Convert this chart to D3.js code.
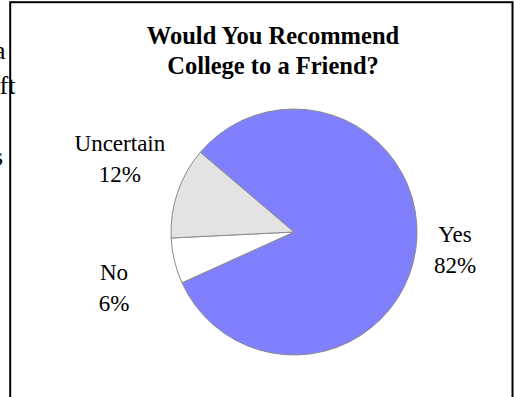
<!DOCTYPE html>
<html>
<head>
<meta charset="utf-8">
<script src="https://cdn.jsdelivr.net/npm/d3@7/dist/d3.min.js"></script>
<style>
  html, body { margin: 0; padding: 0; background: #fff; }
  svg { display: block; }
</style>
</head>
<body>
<script>
// Survey answers, in drawing order (clockwise)
const categories = ["Yes", "No", "Uncertain"];
const percents = [82, 6, 12];
const sliceColors = ["#8080FF", "#FFFFFF", "#E3E3E3"];
const titleLines = ["Would You Recommend", "College to a Friend?"];

// Label placement around the pie: angle (degrees, clockwise from 12 o'clock) and distance from centre
const labelLayout = {
  "Yes":       { angle: 99,  dist: 163 },
  "No":        { angle: 250.5, dist: 191 },
  "Uncertain": { angle: 290.6, dist: 186 }
};

const W = 514, H = 397;
const cx = 294, cy = 232, radius = 123;
const firstSliceStart = -49.6 * Math.PI / 180;

const svg = d3.select("body").append("svg")
  .attr("width", W).attr("height", H);

// Fragments of the surrounding document text peeking out at the left
const docText = svg.append("g")
  .attr("font-family", "'Liberation Serif', 'Times New Roman', serif")
  .attr("font-size", 26).attr("fill", "#000").attr("text-anchor", "end");
docText.append("text").attr("x", 5.5).attr("y", 59).text("a");
docText.append("text").attr("x", 15.5).attr("y", 94).text("ft");
docText.append("text").attr("x", 3).attr("y", 165).text("s");

// Chart frame
svg.append("rect")
  .attr("x", 10.2).attr("y", 2.2)
  .attr("width", 512.5 - 10.2).attr("height", H + 10)
  .attr("fill", "none").attr("stroke", "#000").attr("stroke-width", 2);

// Title
svg.append("g").selectAll("text")
  .data(titleLines)
  .join("text")
  .attr("x", 273)
  .attr("y", (d, i) => 44 + i * 30)
  .attr("text-anchor", "middle")
  .attr("font-family", "'Liberation Serif', 'Times New Roman', serif")
  .attr("font-weight", "bold")
  .attr("font-size", 24.5)
  .attr("fill", "#000")
  .text(d => d);

// Pie
const data = categories.map((c, i) => ({ category: c, value: percents[i], color: sliceColors[i] }));
const pie = d3.pie().sort(null).value(d => d.value)
  .startAngle(firstSliceStart).endAngle(firstSliceStart + 2 * Math.PI);
const arc = d3.arc().innerRadius(0).outerRadius(radius);

const g = svg.append("g").attr("transform", `translate(${cx},${cy})`);
g.selectAll("path")
  .data(pie(data))
  .join("path")
  .attr("d", arc)
  .attr("fill", d => d.data.color)
  .attr("stroke", "#8a8a8a")
  .attr("stroke-width", 1)
  .attr("stroke-linejoin", "round");

// Category / percentage labels
const labels = g.selectAll("g.label")
  .data(pie(data))
  .join("g")
  .attr("class", "label")
  .attr("transform", d => {
    const L = labelLayout[d.data.category];
    const a = L.angle * Math.PI / 180;
    return `translate(${L.dist * Math.sin(a)},${-L.dist * Math.cos(a)})`;
  })
  .attr("font-family", "'Liberation Serif', 'Times New Roman', serif")
  .attr("font-size", 23)
  .attr("fill", "#000")
  .attr("text-anchor", "middle");
labels.append("text").attr("y", -15.5).text(d => d.data.category);
labels.append("text").attr("y", 15.5).text(d => d.data.value + "%");
</script>
</body>
</html>
